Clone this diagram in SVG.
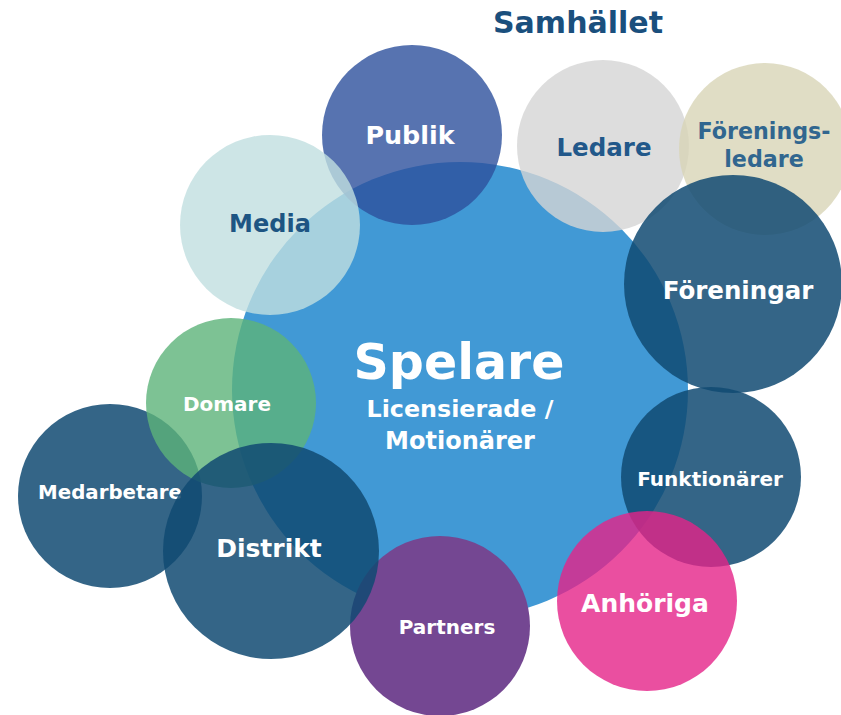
<svg xmlns="http://www.w3.org/2000/svg" width="841" height="715" viewBox="0 0 841 715">
<style>
text{font-family:"DejaVu Sans","Liberation Sans",sans-serif;font-weight:bold;text-anchor:middle}
.w{fill:#ffffff}
.b{fill:#1d5583}
.dark{fill:#104a72;fill-opacity:0.85}
</style>
<rect width="841" height="715" fill="#ffffff"/>
<text x="578" y="33" font-size="30" fill="#1a4f7d">Samhället</text>
<g id="spelare">
<circle cx="460" cy="390" r="228" fill="#4199d5"/>
</g>
<g id="publik">
<circle cx="412" cy="135" r="90" fill="#2d509c" fill-opacity="0.8"/>
<text class="w" x="410" y="144" font-size="25.4">Publik</text>
</g>
<g id="media">
<circle cx="270" cy="225" r="90" fill="#c0dee0" fill-opacity="0.8"/>
<text class="b" x="270" y="232" font-size="24">Media</text>
</g>
<g id="ledare">
<circle cx="603" cy="146" r="86" fill="#d5d5d5" fill-opacity="0.8"/>
<text x="604" y="156" font-size="24.5" fill="#22588a">Ledare</text>
</g>
<g id="foreningsledare">
<circle cx="765" cy="149" r="86" fill="#d8d5b7" fill-opacity="0.8"/>
<text x="764" y="139" font-size="22.2" fill="#31668f">Förenings-</text>
<text x="764" y="167" font-size="22.2" fill="#31668f">ledare</text>
</g>
<g id="foreningar">
<circle class="dark" cx="733" cy="284" r="109"/>
<text class="w" x="738" y="299" font-size="24.5">Föreningar</text>
</g>
<g id="funktionarer">
<circle class="dark" cx="711" cy="477" r="90"/>
<text class="w" x="710" y="486" font-size="20">Funktionärer</text>
</g>
<g id="anhoriga">
<circle cx="647" cy="601" r="90" fill="#e52388" fill-opacity="0.8"/>
<text class="w" x="645" y="612" font-size="25">Anhöriga</text>
</g>
<g id="medarbetare">
<circle class="dark" cx="110" cy="496" r="92"/>
<text class="w" x="110" y="499" font-size="19.8">Medarbetare</text>
</g>
<g id="domare">
<circle cx="231" cy="403" r="85" fill="#5cb379" fill-opacity="0.8"/>
<text class="w" x="227" y="411" font-size="20">Domare</text>
</g>
<g id="partners">
<circle cx="440" cy="626" r="90" fill="#744792"/>
<text class="w" x="447" y="634" font-size="20">Partners</text>
</g>
<g id="distrikt">
<circle class="dark" cx="271" cy="551" r="108"/>
<text class="w" x="269" y="557" font-size="25">Distrikt</text>
</g>
<g id="spelare-label">
<text class="w" x="459" y="379" font-size="49">Spelare</text>
<text class="w" x="460" y="417" font-size="23.8">Licensierade /</text>
<text class="w" x="460" y="449" font-size="24">Motionärer</text>
</g>
<g id="connectors"/>
</svg>
